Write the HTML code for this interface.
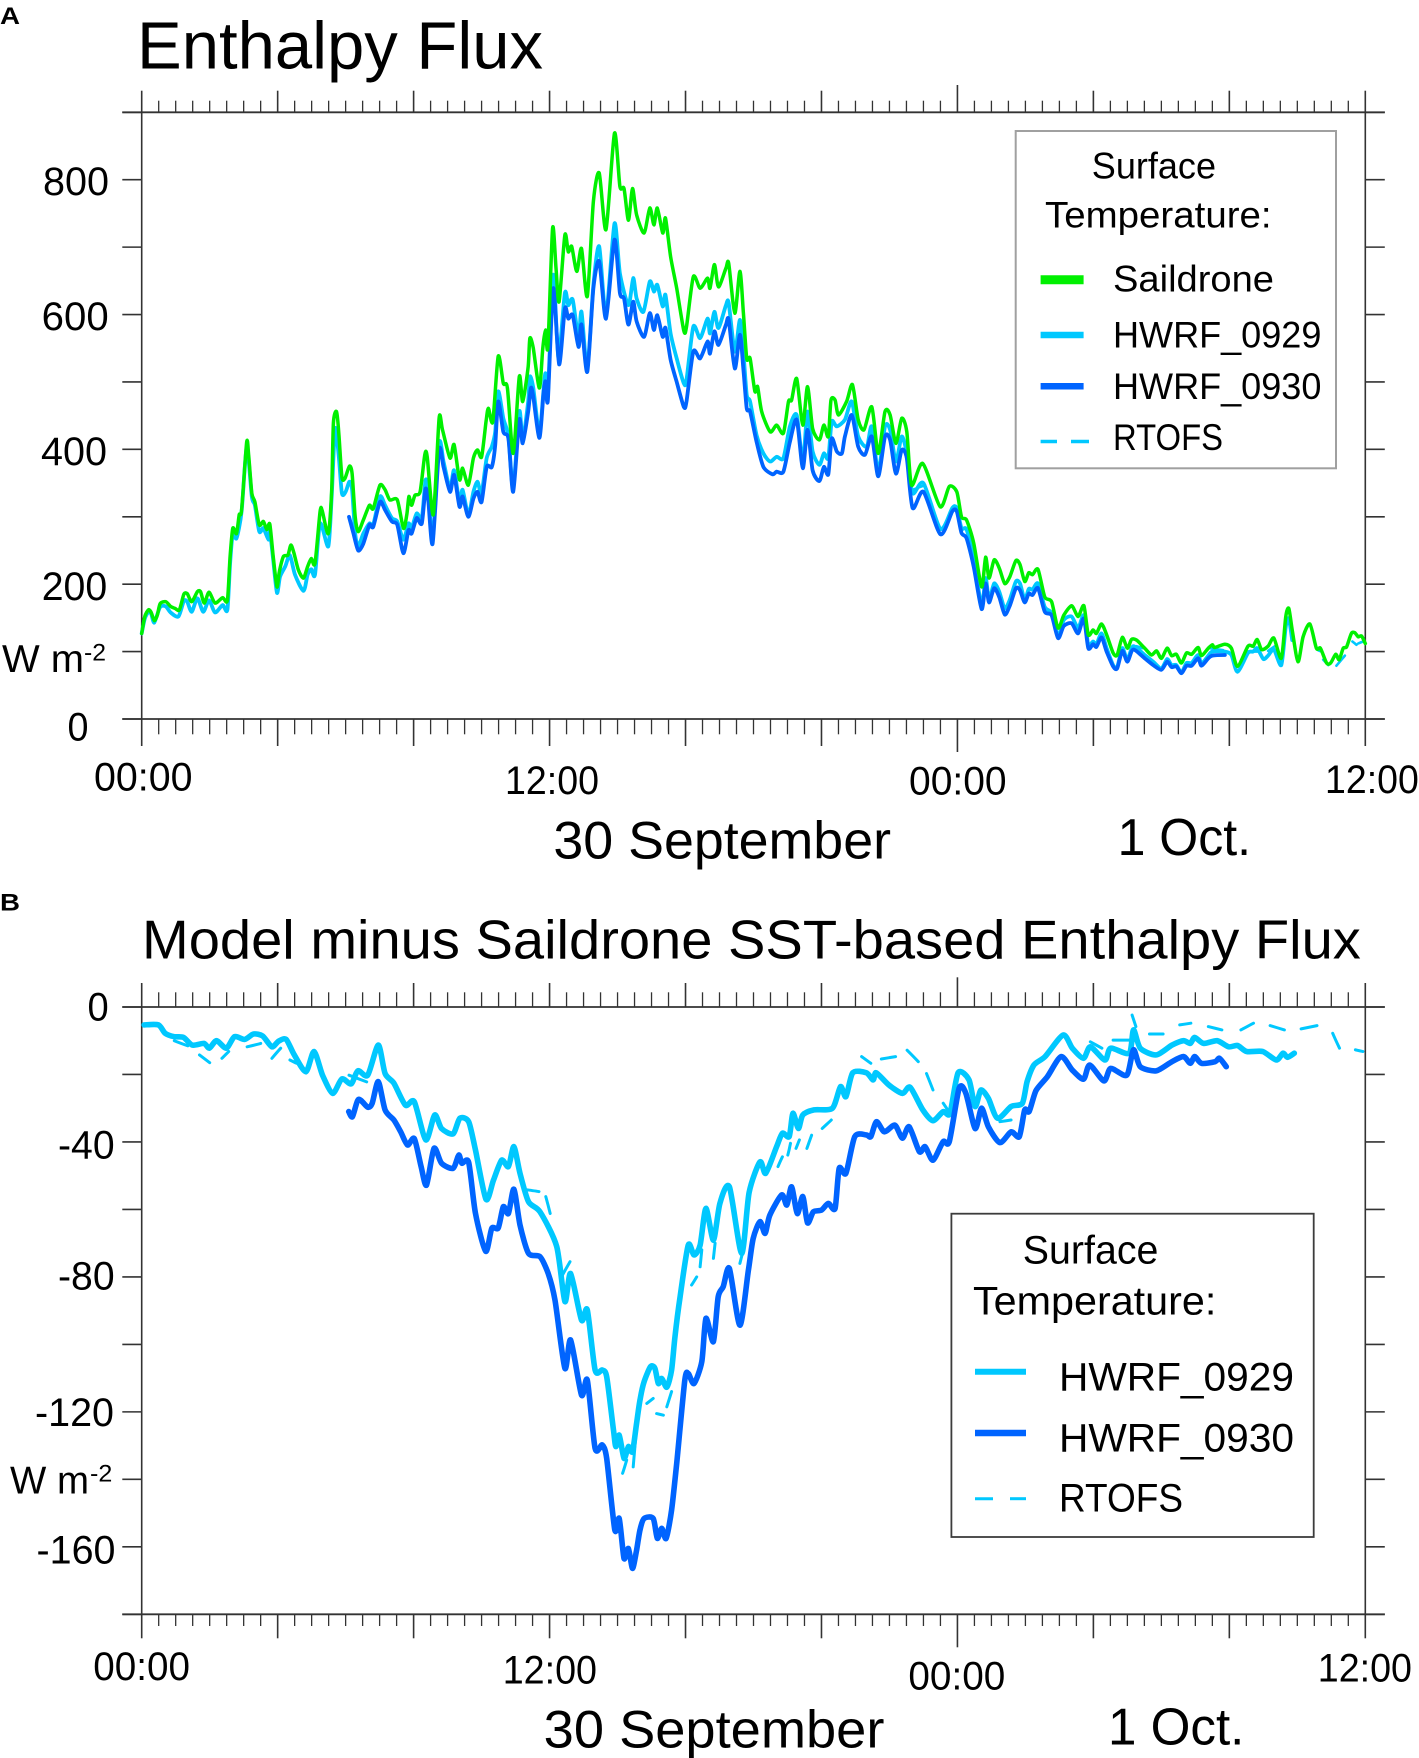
<!DOCTYPE html>
<html lang="en">
<head>
<meta charset="utf-8">
<title>Enthalpy Flux</title>
<style>
html,body{margin:0;padding:0;background:#fff;width:1419px;height:1758px;overflow:hidden}
svg{display:block}
text{font-family:"Liberation Sans",sans-serif;fill:#000}
</style>
</head>
<body>
<svg id="chart" xmlns="http://www.w3.org/2000/svg" width="1419" height="1758" viewBox="0 0 1419 1758">
<rect width="1419" height="1758" fill="#fff"/>

<g id="panelA">
<g id="axesA"></g>
<g id="seriesA"></g>
<text x="0" y="24" font-size="24" font-weight="bold" textLength="20" lengthAdjust="spacingAndGlyphs">A</text>
<text x="137" y="68.3" font-size="67" textLength="406" lengthAdjust="spacingAndGlyphs">Enthalpy Flux</text>
<text x="43" y="195" font-size="39.5" textLength="66" lengthAdjust="spacingAndGlyphs">800</text>
<text x="41.7" y="330" font-size="39.5" textLength="67" lengthAdjust="spacingAndGlyphs">600</text>
<text x="41" y="465" font-size="39.5" textLength="66" lengthAdjust="spacingAndGlyphs">400</text>
<text x="41.7" y="600" font-size="39.5" textLength="65.5" lengthAdjust="spacingAndGlyphs">200</text>
<text x="67.5" y="740.7" font-size="39.5" textLength="21" lengthAdjust="spacingAndGlyphs">0</text>
<text x="2" y="672" font-size="39" textLength="82" lengthAdjust="spacingAndGlyphs">W m</text>
<text x="84" y="660.7" font-size="24" textLength="22" lengthAdjust="spacingAndGlyphs">-2</text>
<text x="94" y="790.7" font-size="39.5" textLength="98.5" lengthAdjust="spacingAndGlyphs">00:00</text>
<text x="505" y="794" font-size="39.5" textLength="94" lengthAdjust="spacingAndGlyphs">12:00</text>
<text x="909" y="794.3" font-size="39.5" textLength="97.6" lengthAdjust="spacingAndGlyphs">00:00</text>
<text x="1325" y="793" font-size="39.5" textLength="93.8" lengthAdjust="spacingAndGlyphs">12:00</text>
<text x="553.4" y="858.3" font-size="53" textLength="337.6" lengthAdjust="spacingAndGlyphs">30 September</text>
<text x="1117.6" y="855" font-size="52" textLength="133.4" lengthAdjust="spacingAndGlyphs">1 Oct.</text>
<g>
<rect x="1015.7" y="131" width="320.3" height="337.3" fill="#fff" stroke="#a0a0a0" stroke-width="2"/>
<text x="1091.8" y="178.3" font-size="37" textLength="124.2" lengthAdjust="spacingAndGlyphs">Surface</text>
<text x="1045" y="227.7" font-size="37" textLength="226.6" lengthAdjust="spacingAndGlyphs">Temperature:</text>
<line x1="1040.6" x2="1083.6" y1="279.7" y2="279.7" stroke="#00f000" stroke-width="9"/>
<text x="1113" y="291.7" font-size="37" textLength="161" lengthAdjust="spacingAndGlyphs">Saildrone</text>
<line x1="1040.6" x2="1083.6" y1="335" y2="335" stroke="#00c8ff" stroke-width="6.5"/>
<text x="1113" y="347.7" font-size="37" textLength="208.4" lengthAdjust="spacingAndGlyphs">HWRF_0929</text>
<line x1="1040.6" x2="1083.6" y1="386.3" y2="386.3" stroke="#0064ff" stroke-width="6.5"/>
<text x="1113" y="399" font-size="37" textLength="208.4" lengthAdjust="spacingAndGlyphs">HWRF_0930</text>
<line x1="1040.6" x2="1057" y1="441.5" y2="441.5" stroke="#00c8ff" stroke-width="3.5"/>
<line x1="1071" x2="1089" y1="441.5" y2="441.5" stroke="#00c8ff" stroke-width="3.5"/>
<text x="1113" y="450" font-size="37" textLength="110" lengthAdjust="spacingAndGlyphs">RTOFS</text>
</g>
</g>

<g id="panelB">
<g id="axesB"></g>
<g id="seriesB"></g>
<text x="0" y="910.7" font-size="24" font-weight="bold" textLength="20" lengthAdjust="spacingAndGlyphs">B</text>
<text x="142" y="958.3" font-size="55" textLength="1218.8" lengthAdjust="spacingAndGlyphs">Model minus Saildrone SST-based Enthalpy Flux</text>
<text x="87.5" y="1020.7" font-size="39.5" textLength="21.2" lengthAdjust="spacingAndGlyphs">0</text>
<text x="58" y="1158.3" font-size="39.5" textLength="56.6" lengthAdjust="spacingAndGlyphs">-40</text>
<text x="58" y="1289.3" font-size="39.5" textLength="56.6" lengthAdjust="spacingAndGlyphs">-80</text>
<text x="35" y="1426" font-size="39.5" textLength="79" lengthAdjust="spacingAndGlyphs">-120</text>
<text x="36.5" y="1563.3" font-size="39.5" textLength="79" lengthAdjust="spacingAndGlyphs">-160</text>
<text x="10" y="1493.3" font-size="39" textLength="79" lengthAdjust="spacingAndGlyphs">W m</text>
<text x="90" y="1481.7" font-size="24" textLength="22.3" lengthAdjust="spacingAndGlyphs">-2</text>
<text x="93.3" y="1680" font-size="39.5" textLength="96.7" lengthAdjust="spacingAndGlyphs">00:00</text>
<text x="502.7" y="1683.3" font-size="39.5" textLength="94.3" lengthAdjust="spacingAndGlyphs">12:00</text>
<text x="908.4" y="1689.3" font-size="39.5" textLength="96.9" lengthAdjust="spacingAndGlyphs">00:00</text>
<text x="1317.8" y="1681.7" font-size="39.5" textLength="94.2" lengthAdjust="spacingAndGlyphs">12:00</text>
<text x="543.7" y="1747.7" font-size="53" textLength="340.7" lengthAdjust="spacingAndGlyphs">30 September</text>
<text x="1108" y="1744.3" font-size="52" textLength="136.4" lengthAdjust="spacingAndGlyphs">1 Oct.</text>
<g>
<rect x="951.4" y="1213.7" width="362.3" height="323.3" fill="#fff" stroke="#3c3c3c" stroke-width="1.8"/>
<text x="1022.8" y="1263.3" font-size="40" textLength="135.6" lengthAdjust="spacingAndGlyphs">Surface</text>
<text x="973" y="1314.3" font-size="40" textLength="243.3" lengthAdjust="spacingAndGlyphs">Temperature:</text>
<line x1="975" x2="1026" y1="1371.7" y2="1371.7" stroke="#00c8ff" stroke-width="6"/>
<text x="1059" y="1390.7" font-size="40" textLength="235" lengthAdjust="spacingAndGlyphs">HWRF_0929</text>
<line x1="975" x2="1026" y1="1433" y2="1433" stroke="#0064ff" stroke-width="6.5"/>
<text x="1059" y="1451.7" font-size="40" textLength="235" lengthAdjust="spacingAndGlyphs">HWRF_0930</text>
<line x1="975" x2="993" y1="1498.7" y2="1498.7" stroke="#00c8ff" stroke-width="3"/>
<line x1="1010" x2="1026" y1="1498.7" y2="1498.7" stroke="#00c8ff" stroke-width="3"/>
<text x="1059" y="1511.7" font-size="40" textLength="124" lengthAdjust="spacingAndGlyphs">RTOFS</text>
</g>
</g>
</svg>

<script>
/* Each point is [hours since 00:00 on 30 September, value]. A null value breaks the line. */
const saildroneFluxA = [[0,127],[.09,152],[.2,162],[.28,158],[.37,146],[.46,154],[.54,171],[.71,174],[.85,167],[.98,164],[1.11,162],[1.24,185],[1.34,186],[1.47,174],[1.64,189],[1.73,189],[1.84,172],[1.98,188],[2.16,172],[2.38,180],[2.52,176],[2.6,241],[2.68,283],[2.79,275],[2.87,303],[2.94,310],[3.09,411],[3.15,389],[3.24,335],[3.33,322],[3.46,288],[3.58,293],[3.68,281],[3.77,289],[3.87,241],[3.98,196],[4.05,219],[4.17,241],[4.3,243],[4.39,258],[4.48,246],[4.61,221],[4.76,209],[4.88,226],[4.99,238],[5.1,231],[5.25,308],[5.31,309],[5.49,275],[5.59,340],[5.64,439],[5.73,456],[5.8,424],[5.89,359],[5.98,357],[6.11,375],[6.19,364],[6.28,300],[6.37,278],[6.52,295],[6.7,317],[6.81,312],[7.01,347],[7.16,340],[7.3,325],[7.52,325],[7.7,283],[7.8,303],[7.86,330],[7.94,317],[8.04,332],[8.19,337],[8.33,392],[8.4,389],[8.58,303],[8.75,446],[8.85,429],[9.07,387],[9.19,407],[9.35,355],[9.44,372],[9.61,347],[9.76,387],[9.88,399],[10,389],[10.13,441],[10.2,461],[10.33,441],[10.49,538],[10.64,498],[10.76,491],[10.93,394],[11.11,508],[11.21,471],[11.37,523],[11.42,565],[11.52,550],[11.7,491],[11.8,550],[11.88,577],[11.95,552],[12.09,728],[12.19,669],[12.28,619],[12.45,718],[12.55,693],[12.65,701],[12.8,664],[12.94,698],[13.11,627],[13.29,768],[13.46,810],[13.66,726],[13.91,869],[14.07,790],[14.19,787],[14.32,740],[14.44,787],[14.56,748],[14.78,721],[14.95,758],[15.07,733],[15.17,758],[15.33,721],[15.41,743],[15.56,686],[15.74,639],[15.95,576],[16.03,582],[16.23,656],[16.43,639],[16.65,654],[16.72,639],[16.85,674],[16.97,641],[17.19,669],[17.27,676],[17.45,602],[17.6,664],[17.7,604],[17.8,535],[17.9,535],[18.04,486],[18.12,493],[18.24,456],[18.49,426],[18.68,436],[18.88,424],[19.03,471],[19.12,473],[19.27,505],[19.45,436],[19.59,493],[19.74,431],[19.94,414],[20.07,436],[20.2,419],[20.28,473],[20.4,473],[20.5,451],[20.74,471],[20.91,496],[21.08,444],[21.25,429],[21.48,463],[21.67,394],[21.87,456],[22.02,451],[22.19,409],[22.36,446],[22.51,426],[22.65,347],[22.98,379],[23.49,315],[23.76,345],[23.98,337],[24.12,300],[24.27,295],[24.48,261],[24.71,196],[24.83,240],[24.93,209],[25.08,236],[25.23,224],[25.39,201],[25.54,211],[25.72,235],[25.84,229],[25.98,204],[26.1,217],[26.21,214],[26.37,222],[26.57,181],[26.77,174],[26.96,135],[27.13,154],[27.36,168],[27.55,152],[27.72,168],[27.85,125],[27.99,132],[28.09,127],[28.24,141],[28.39,125],[28.58,98],[28.7,95],[28.85,121],[29,105],[29.12,118],[29.27,117],[29.51,105],[29.71,95],[29.86,101],[30,90],[30.17,105],[30.3,94],[30.44,96],[30.59,83],[30.74,98],[30.89,96],[31.08,106],[31.18,94],[31.38,105],[31.5,110],[31.57,106],[31.87,111],[32.06,105],[32.24,78],[32.55,108],[32.7,108],[32.82,118],[32.95,103],[33.14,108],[33.31,120],[33.53,90],[33.66,152],[33.75,164],[33.85,132],[34.02,85],[34.17,122],[34.37,141],[34.56,105],[34.68,105],[34.86,83],[34.98,83],[35.13,96],[35.23,88],[35.35,105],[35.45,107],[35.59,127],[35.69,128],[35.79,122],[35.89,123],[36,112]];

const hwrf0929FluxA = [[0,127],[.09,149],[.2,159],[.28,156],[.37,143],[.54,166],[.71,167],[.85,158],[1.08,152],[1.24,175],[1.34,174],[1.47,159],[1.64,179],[1.81,159],[1.98,176],[2.16,158],[2.38,169],[2.52,162],[2.6,231],[2.68,276],[2.79,268],[2.94,308],[3.09,404],[3.24,330],[3.33,317],[3.46,278],[3.58,283],[3.73,266],[3.77,280],[3.87,236],[3.98,187],[4.07,211],[4.22,226],[4.36,243],[4.51,214],[4.76,190],[4.88,214],[4.99,222],[5.1,214],[5.25,290],[5.49,256],[5.59,330],[5.69,431],[5.8,389],[5.89,335],[6,337],[6.11,352],[6.19,340],[6.28,275],[6.37,256],[6.52,275],[6.7,290],[6.81,288],[7.01,330],[7.16,317],[7.36,298],[7.52,293],[7.7,266],[7.85,290],[7.94,283],[8.09,305],[8.24,298],[8.35,354],[8.43,340],[8.56,266],[8.75,409],[8.88,382],[9.07,342],[9.19,369],[9.35,322],[9.44,340],[9.61,303],[9.76,337],[9.88,352],[10,335],[10.15,387],[10.3,404],[10.4,426],[10.49,486],[10.64,446],[10.79,419],[10.93,342],[11.11,456],[11.21,414],[11.37,471],[11.42,508],[11.52,491],[11.7,424],[11.82,486],[11.88,513],[11.95,481],[12.11,659],[12.26,535],[12.45,632],[12.55,614],[12.68,622],[12.85,565],[12.94,604],[13.11,520],[13.29,644],[13.46,701],[13.66,599],[13.91,735],[14.07,661],[14.32,614],[14.46,654],[14.56,624],[14.76,604],[14.95,649],[15.07,634],[15.17,644],[15.33,612],[15.41,629],[15.56,572],[15.74,535],[15.95,498],[16.03,503],[16.23,582],[16.43,565],[16.65,594],[16.72,572],[16.85,604],[16.97,580],[17.19,614],[17.27,617],[17.45,545],[17.6,592],[17.7,545],[17.8,481],[17.9,471],[18.09,421],[18.29,394],[18.49,382],[18.68,389],[18.88,387],[19.07,434],[19.27,451],[19.45,382],[19.59,456],[19.74,397],[19.94,377],[20.07,394],[20.2,387],[20.3,441],[20.45,434],[20.69,444],[20.89,471],[21.08,419],[21.33,404],[21.48,434],[21.67,367],[21.87,434],[22.02,429],[22.19,382],[22.36,419],[22.51,394],[22.68,335],[23,350],[23.5,282],[23.85,313],[23.98,313],[24.12,283],[24.27,281],[24.48,236],[24.71,169],[24.83,209],[24.93,177],[25.08,201],[25.23,189],[25.39,164],[25.54,177],[25.72,204],[25.84,201],[25.98,177],[26.1,193],[26.21,192],[26.37,201],[26.57,166],[26.77,157],[26.96,123],[27.13,147],[27.36,152],[27.55,135],[27.72,154],[27.85,110],[27.99,115],[28.09,111],[28.24,127],[28.39,105],[28.58,80],[28.7,77],[28.85,105],[29,88],[29.17,108],[29.51,95],[29.76,85],[30,75],[30.17,89],[30.3,80],[30.44,80],[30.59,69],[30.74,83],[30.89,83],[31.08,95],[31.18,82],[31.38,94],[31.5,100],[31.87,100],[32.06,95],[32.24,70],[32.55,98],[32.7,100],[32.82,105],[33,89],[33.14,94],[33.31,103],[33.53,80],[33.66,137],[33.75,149],[33.85,117]];

const hwrf0930FluxA = [[6.1,300],[6.23,275],[6.37,250],[6.52,260],[6.7,288],[6.81,285],[7.01,322],[7.16,310],[7.36,293],[7.52,288],[7.7,246],[7.85,280],[7.94,275],[8.09,298],[8.24,290],[8.35,341],[8.43,325],[8.56,260],[8.75,399],[8.88,374],[9.07,337],[9.19,362],[9.35,315],[9.44,330],[9.61,300],[9.76,327],[9.88,337],[10,322],[10.15,374],[10.3,374],[10.4,406],[10.49,471],[10.64,426],[10.79,416],[10.93,337],[11.11,444],[11.21,409],[11.37,456],[11.45,491],[11.52,478],[11.7,417],[11.82,481],[11.88,501],[11.95,473],[12.11,639],[12.28,526],[12.45,609],[12.55,594],[12.68,599],[12.85,552],[12.94,585],[13.11,515],[13.29,639],[13.46,679],[13.66,594],[13.91,711],[14.07,632],[14.19,624],[14.32,585],[14.46,619],[14.56,590],[14.78,567],[14.95,602],[15.07,577],[15.17,599],[15.33,567],[15.41,580],[15.56,533],[15.74,500],[15.95,463],[16.03,471],[16.23,545],[16.43,535],[16.65,560],[16.72,542],[16.85,575],[16.97,555],[17.19,585],[17.27,592],[17.45,520],[17.6,570],[17.7,520],[17.8,461],[17.9,456],[18.09,411],[18.29,374],[18.56,363],[18.68,367],[18.88,367],[19.07,411],[19.27,444],[19.45,372],[19.59,429],[19.74,369],[19.94,353],[20.07,374],[20.2,363],[20.3,416],[20.45,397],[20.6,394],[20.69,419],[20.89,451],[21.08,404],[21.28,392],[21.48,419],[21.67,360],[21.87,419],[22.02,414],[22.19,364],[22.36,399],[22.51,387],[22.68,313],[23,337],[23.5,274],[23.85,308],[23.98,308],[24.12,276],[24.27,268],[24.48,226],[24.71,163],[24.83,201],[24.93,173],[25.08,194],[25.23,181],[25.39,155],[25.54,168],[25.72,194],[25.84,191],[25.98,173],[26.1,186],[26.21,184],[26.37,194],[26.57,159],[26.77,154],[26.96,120],[27.13,138],[27.36,142],[27.55,127],[27.72,149],[27.85,105],[27.99,111],[28.09,107],[28.24,121],[28.39,100],[28.58,78],[28.7,75],[28.85,101],[29,85],[29.17,103],[29.51,90],[29.76,80],[30,73],[30.17,85],[30.3,77],[30.44,78],[30.59,68],[30.74,79],[30.89,79],[31.08,90],[31.18,79],[31.38,90],[31.5,94],[31.87,95]];

const rtofsFluxA = [[22.68,340],[23.05,347],[23.06,null],[29.27,108],[29.46,105],[29.47,null],[31.43,105],[31.82,102],[31.83,null],[32.5,100],[32.9,100],[32.91,null],[33.14,101],[33.34,108],[33.35,null],[34.61,102],[34.71,100],[34.72,null],[34.76,88],[34.91,80],[34.92,null],[35.15,79],[35.4,94],[35.41,null],[35.62,115],[35.74,110],[35.75,null],[35.79,112],[35.94,115]];

const hwrf0929DiffB = [[.07,-5.3],[.49,-5.3],[.69,-7.8],[.96,-8.8],[1.23,-9],[1.49,-11.3],[1.83,-10.8],[1.99,-12.2],[2.2,-10],[2.49,-12.2],[2.73,-8.8],[3.03,-9.6],[3.29,-8],[3.56,-8.6],[3.83,-11.8],[4.03,-10.1],[4.25,-9.6],[4.49,-14.2],[4.83,-19.2],[5.07,-13.2],[5.32,-20.2],[5.62,-25.6],[5.89,-21.3],[6.16,-22.8],[6.36,-18.9],[6.65,-20.2],[6.96,-11.3],[7.16,-19.7],[7.42,-22.6],[7.76,-29.1],[8.02,-28.1],[8.36,-39.4],[8.62,-32],[8.82,-36],[9.16,-37.6],[9.36,-33],[9.62,-34],[9.82,-42.4],[10.13,-57],[10.35,-51.3],[10.59,-45.4],[10.79,-47.3],[10.95,-41.4],[11.13,-49.3],[11.38,-57.7],[11.72,-60.7],[12.21,-71],[12.45,-87.3],[12.62,-79],[12.94,-92.8],[13.11,-89.8],[13.34,-107.6],[13.55,-107.6],[13.68,-109.6],[13.88,-125.4],[13.95,-130.3],[14.05,-126.9],[14.19,-133.8],[14.32,-130.3],[14.44,-131.8],[14.56,-123.4],[14.66,-116.5],[14.78,-111.1],[14.97,-106.6],[15.1,-107.1],[15.2,-111.6],[15.3,-110.1],[15.45,-112.7],[15.59,-107.6],[15.69,-97.7],[15.84,-85.9],[16.08,-70.6],[16.25,-73.5],[16.43,-70.6],[16.6,-59.7],[16.82,-69.1],[17.01,-58.2],[17.29,-53.3],[17.65,-73],[17.87,-55],[18.19,-45.9],[18.36,-49.3],[18.68,-41.4],[18.85,-37.4],[19.05,-38.4],[19.16,-31.5],[19.32,-36],[19.45,-32],[19.78,-30.5],[20.32,-30],[20.56,-23.6],[20.72,-26.6],[20.92,-19.5],[21.32,-19.5],[21.52,-21.6],[21.61,-19.5],[21.98,-23.1],[22.38,-25.6],[22.61,-23.8],[22.98,-30.5],[23.28,-33.7],[23.58,-31],[23.78,-31.5],[24.02,-19.5],[24.34,-21.6],[24.52,-29.5],[24.69,-24.6],[24.91,-27.1],[25.18,-33],[25.58,-29.5],[25.91,-28.5],[26.05,-22.1],[26.25,-17.2],[26.58,-14.7],[27.11,-8.3],[27.38,-12.2],[27.71,-15.2],[27.91,-11.8],[28.34,-15.7],[28.51,-12.2],[29.05,-13.7],[29.18,-6.8],[29.38,-12.2],[29.85,-14.2],[30.31,-11.3],[30.65,-10],[30.85,-10.8],[30.98,-9],[31.24,-10.8],[31.64,-10],[31.98,-11.8],[32.24,-11.4],[32.51,-13.2],[32.98,-13.2],[33.38,-15.7],[33.58,-13.7],[33.71,-14.9],[33.91,-13.7]];

const hwrf0930DiffB = [[6.09,-31],[6.2,-32.5],[6.38,-27.4],[6.65,-29.7],[6.78,-28.6],[6.96,-22.1],[7.16,-30.5],[7.42,-33.5],[7.62,-37],[7.82,-40.9],[8.02,-39],[8.22,-47.3],[8.38,-52.8],[8.6,-41.9],[8.82,-46.3],[9.16,-47.8],[9.33,-43.9],[9.42,-46.3],[9.62,-46.1],[9.82,-61.2],[10.12,-72.4],[10.3,-65.6],[10.49,-65.5],[10.64,-59.2],[10.79,-61.2],[10.95,-54],[11.13,-64.6],[11.38,-73],[11.72,-74],[11.96,-79],[12.16,-86.9],[12.45,-107.1],[12.62,-98.7],[12.94,-115],[13.11,-110.6],[13.34,-130.8],[13.55,-129.8],[13.68,-133.8],[13.92,-155],[14.05,-151.6],[14.19,-163.4],[14.32,-160.5],[14.44,-166.4],[14.56,-161],[14.66,-155],[14.78,-151.6],[15.05,-151.6],[15.17,-157.5],[15.3,-154.5],[15.43,-157.5],[15.59,-149.1],[15.74,-135.3],[15.98,-110.6],[16.08,-108.6],[16.25,-111.6],[16.48,-105.1],[16.6,-92.3],[16.82,-99.2],[16.96,-85.9],[17.11,-82.9],[17.29,-77.5],[17.6,-94.3],[17.85,-78],[17.99,-68.6],[18.19,-63.6],[18.34,-67.1],[18.48,-61.7],[18.83,-55.7],[18.98,-58.7],[19.12,-53.3],[19.29,-61.2],[19.45,-56.2],[19.59,-64],[19.76,-60.7],[20,-60.2],[20.2,-58.2],[20.4,-59.7],[20.52,-47.8],[20.72,-49.3],[20.98,-38.4],[21.32,-37.9],[21.45,-38.4],[21.62,-34],[21.85,-37],[22.16,-35],[22.38,-38.9],[22.58,-35.5],[22.88,-42.9],[23.05,-41.4],[23.28,-45.4],[23.58,-39.9],[23.76,-39.9],[24.05,-24.1],[24.25,-25.6],[24.52,-36],[24.71,-30],[24.91,-35.5],[25.25,-40.2],[25.58,-37],[25.82,-38.4],[25.98,-30.5],[26.11,-31],[26.31,-24.8],[26.65,-20.6],[27.05,-14.7],[27.38,-18.7],[27.71,-21.4],[27.89,-17.2],[28.31,-21.9],[28.51,-18.2],[28.98,-20.2],[29.18,-12.7],[29.38,-17.7],[29.85,-18.9],[30.31,-16.2],[30.65,-14.7],[30.85,-16.7],[30.98,-14.7],[31.18,-16.7],[31.58,-16.2],[31.71,-15.2],[31.91,-17.7]];

const rtofsDiffB = [[.96,-10],[1.36,-11.5],[1.37,null],[1.7,-14.2],[2,-16.5],[2.01,null],[2.36,-15.2],[2.56,-13.2],[2.57,null],[3.1,-11.8],[3.5,-10.8],[3.51,null],[3.83,-15.2],[4.09,-12.2],[4.1,null],[4.36,-15.7],[4.56,-16.7],[4.57,null],[6.1,-20.2],[6.62,-22.2],[6.63,null],[11.35,-54.2],[11.69,-54.7],[11.7,null],[11.89,-56.2],[12.02,-61.2],[12.03,null],[12.35,-80],[12.6,-75.5],[12.61,null],[14.15,-138.2],[14.27,-134.3],[14.28,null],[14.46,-136.3],[14.56,-124.4],[14.57,null],[14.86,-117.5],[15.05,-116],[15.06,null],[15.15,-120.5],[15.35,-121],[15.36,null],[15.45,-118.5],[15.59,-114],[15.6,null],[16.18,-82.4],[16.33,-80],[16.34,null],[16.43,-77],[16.48,-72],[16.49,null],[16.82,-74.5],[16.87,-70],[16.88,null],[17.6,-76],[17.7,-72],[17.71,null],[18.72,-47.3],[18.85,-44.4],[18.86,null],[19.01,-43.9],[19.09,-40.4],[19.1,null],[19.25,-41.9],[19.35,-39.4],[19.36,null],[19.57,-41.9],[19.71,-38],[19.72,null],[20.02,-36],[20.29,-33.5],[20.3,null],[21.18,-14.7],[21.45,-16.7],[21.46,null],[21.76,-15.4],[22.18,-14.7],[22.19,null],[22.52,-12.8],[22.85,-16.2],[22.86,null],[23.09,-19.7],[23.28,-24.6],[23.29,null],[23.58,-28.5],[23.78,-31.5],[23.79,null],[25.25,-34],[25.58,-33.5],[25.59,null],[27.91,-10.3],[28.25,-12.2],[28.26,null],[28.58,-9.8],[29.11,-9.8],[29.12,null],[29.14,-2.4],[29.25,-5.8],[29.26,null],[29.65,-8],[30.05,-8],[30.06,null],[30.54,-5.3],[30.87,-4.8],[30.88,null],[31.38,-5.8],[31.78,-6.8],[31.79,null],[32.34,-6.8],[32.71,-4.8],[32.72,null],[33.2,-5.5],[33.62,-6.8],[33.63,null],[34.11,-6.5],[34.58,-5.5],[34.59,null],[35.04,-7.8],[35.24,-12.2],[35.25,null],[35.71,-12.7],[35.93,-13.2]];

const yTicksA = [0,100,200,300,400,500,600,700,800,900];
const yTicksB = [0,-20,-40,-60,-80,-100,-120,-140,-160,-180];

const SVG_NS = 'http://www.w3.org/2000/svg';
const AXIS_COLOR = '#333';
const xLeft = 141.7, xRight = 1365.3, outerLeft = 122.3, outerRight = 1384.8;
const xScale = h => xLeft + (xRight - xLeft) * h / 36;

function makeLine(parent, x1, y1, x2, y2, width) {
  const el = document.createElementNS(SVG_NS, 'line');
  el.setAttribute('x1', x1);
  el.setAttribute('y1', y1);
  el.setAttribute('x2', x2);
  el.setAttribute('y2', y2);
  el.setAttribute('stroke', AXIS_COLOR);
  el.setAttribute('stroke-width', width);
  parent.appendChild(el);
  return el;
}

function drawAxes(parent, yScale, yTicks, top, bottom, lens) {
  yTicks.forEach(v => {
    const y = yScale(v);
    const leftTick = makeLine(parent, outerLeft, y, xLeft, y, 1.6);
    
    
    const rightTick = makeLine(parent, xRight, y, outerRight, y, 1.6);
    
    
  });
  for (let i = 0; i <= 72; i++) {
    const h = i / 2;
    const x = xScale(h);
    const major = h % 4 === 0;
    const day = h === 24;
    const upLen = day ? lens.topDay : major ? lens.topMajor : lens.topMinor;
    const downLen = day ? lens.botDay : major ? lens.botMajor : lens.botMinor;
    const topTick = makeLine(parent, x, top, x, top - upLen, major ? 1.6 : 1.3);
    
    
    const bottomTick = makeLine(parent, x, bottom, x, bottom + downLen, major ? 1.6 : 1.3);
    
    
  }
  const topAxis = makeLine(parent, outerLeft, top, outerRight, top, 1.8);
  
  
  const bottomAxis = makeLine(parent, outerLeft, bottom, outerRight, bottom, 1.8);
  
  
  const leftAxis = makeLine(parent, xLeft, top, xLeft, bottom, 1.6);
  
  
  const rightAxis = makeLine(parent, xRight, top, xRight, bottom, 1.6);
  
  
}

function smoothRun(run) {
  let d = 'M' + run[0][0].toFixed(1) + ' ' + run[0][1].toFixed(1);
  const k = 1 / 8;
  for (let i = 0; i < run.length - 1; i++) {
    const p0 = run[Math.max(i - 1, 0)];
    const p1 = run[i];
    const p2 = run[i + 1];
    const p3 = run[Math.min(i + 2, run.length - 1)];
    const c1x = p1[0] + (p2[0] - p0[0]) * k;
    const c1y = p1[1] + (p2[1] - p0[1]) * k;
    const c2x = p2[0] - (p3[0] - p1[0]) * k;
    const c2y = p2[1] - (p3[1] - p1[1]) * k;
    d += 'C' + c1x.toFixed(1) + ' ' + c1y.toFixed(1) + ' ' + c2x.toFixed(1) + ' ' + c2y.toFixed(1) + ' ' + p2[0].toFixed(1) + ' ' + p2[1].toFixed(1);
  }
  return d;
}

function seriesPath(parent, points, yScale, color, width) {
  let d = '';
  let run = [];
  points.forEach(p => {
    if (p[1] === null) {
      if (run.length) d += smoothRun(run);
      run = [];
      return;
    }
    run.push([xScale(p[0]), yScale(p[1])]);
  });
  if (run.length) d += smoothRun(run);
  const el = document.createElementNS(SVG_NS, 'path');
  el.setAttribute('d', d);
  el.setAttribute('fill', 'none');
  el.setAttribute('stroke', color);
  el.setAttribute('stroke-width', width);
  el.setAttribute('stroke-linejoin', 'round');
  el.setAttribute('stroke-linecap', 'round');
  parent.appendChild(el);
  return el;
}

/* Panel A scale: 0 to 900 W m-2 */
const yScaleA = v => 719 - (719 - 112.3) * v / 900;
/* Panel B scale: 0 to -180 W m-2 */
const yScaleB = v => 1007 + (1614.3 - 1007) * (-v) / 180;

const axesA = document.getElementById('axesA');
drawAxes(axesA, yScaleA, yTicksA, 112.3, 719, {topMinor: 11.6, topMajor: 21.6, topDay: 27.3, botMinor: 15.3, botMajor: 27, botDay: 33});
const axesB = document.getElementById('axesB');
drawAxes(axesB, yScaleB, yTicksB, 1007, 1614.3, {topMinor: 14.7, topMajor: 24, topDay: 29.7, botMinor: 11.7, botMajor: 24, botDay: 33});

const groupA = document.getElementById('seriesA');
const rtofsLineA = seriesPath(groupA, rtofsFluxA, yScaleA, '#00c8ff', 2.6);


const hwrf0929LineA = seriesPath(groupA, hwrf0929FluxA, yScaleA, '#00c8ff', 3.8);


const hwrf0930LineA = seriesPath(groupA, hwrf0930FluxA, yScaleA, '#0064ff', 3.8);


const saildroneLineA = seriesPath(groupA, saildroneFluxA, yScaleA, '#00f000', 3.5);



const groupB = document.getElementById('seriesB');
const rtofsLineB = seriesPath(groupB, rtofsDiffB, yScaleB, '#00c8ff', 3);


const hwrf0929LineB = seriesPath(groupB, hwrf0929DiffB, yScaleB, '#00c8ff', 5.6);


const hwrf0930LineB = seriesPath(groupB, hwrf0930DiffB, yScaleB, '#0064ff', 5.6);


</script>
</body>
</html>
